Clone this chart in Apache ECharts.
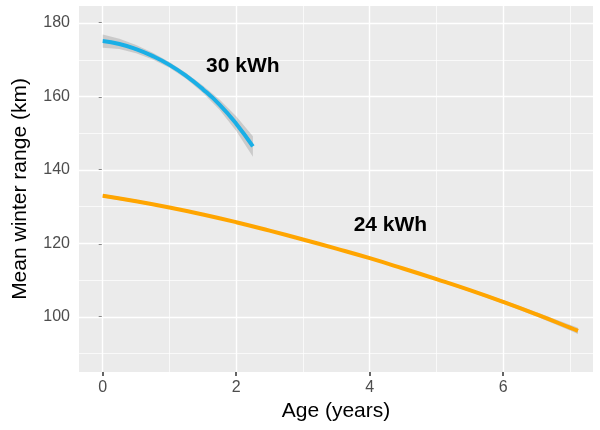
<!DOCTYPE html>
<html>
<head>
<meta charset="utf-8">
<script src="https://cdn.jsdelivr.net/npm/echarts@6/dist/echarts.min.js"></script>
<style>
  html, body { margin: 0; padding: 0; background: #fff; }
  #chart { width: 600px; height: 430px; }
</style>
</head>
<body>
<div id="chart"></div>
<script>
// 30 kWh fit (blue) with its confidence band
const ageBlue = [0, 0.25, 0.5, 0.75, 1, 1.25, 1.5, 1.75, 2, 2.25];
const rangeBlue = [175.1, 174.3, 172.9, 171.0, 168.6, 165.6, 162.0, 157.8, 152.6, 146.4];
const lowBlue = [173.3, 172.9, 171.8, 170.1, 167.8, 164.8, 161.0, 156.4, 150.6, 143.6];
const highBlue = [176.9, 175.7, 174.0, 171.9, 169.4, 166.4, 163.0, 159.2, 154.6, 149.2];

// 24 kWh fit (orange) with its confidence band
const ageOrange = [0, 0.5, 1, 1.5, 2, 2.5, 3, 3.5, 4, 4.5, 5, 5.5, 6, 6.5, 7, 7.12];
const rangeOrange = [133.0, 131.5, 129.8, 127.9, 125.8, 123.5, 121.1, 118.6, 116.0, 113.2, 110.3, 107.3, 104.1, 100.7, 97.1, 96.2];
const lowOrange = [132.5, 131.1, 129.45, 127.6, 125.5, 123.2, 120.8, 118.3, 115.7, 112.9, 109.95, 106.9, 103.6, 100.1, 96.3, 95.35];
const highOrange = [133.5, 131.9, 130.15, 128.2, 126.1, 123.8, 121.4, 118.9, 116.3, 113.5, 110.65, 107.7, 104.6, 101.3, 97.9, 97.05];

// labels placed on the curves
const labelNames = ['30 kWh', '24 kWh'];
const labelAge = [2.1, 4.31];
const labelRange = [168.3, 124.9];

// ticks / grid lines
const xMajor = [0, 2, 4, 6];
const xMinor = [1, 3, 5, 7];
const yMajor = [100, 120, 140, 160, 180];
const yMinor = [90, 110, 130, 150, 170];

const pairs = (xs, ys) => xs.map((x, i) => [x, ys[i]]);

const bands = [
  { x: ageBlue, lo: lowBlue, hi: highBlue },
  { x: ageOrange, lo: lowOrange, hi: highOrange }
];

const chart = echarts.init(document.getElementById('chart'), null, { renderer: 'canvas' });

const fontFamily = 'Liberation Sans, Arial, sans-serif';

const gridLines = (vals, key, width) => ({
  type: 'line',
  data: [],
  silent: true,
  z: 1,
  markLine: {
    silent: true,
    z: 1,
    symbol: 'none',
    animation: false,
    label: { show: false },
    lineStyle: { color: '#ffffff', width: width, type: 'solid' },
    emphasis: { disabled: true },
    data: vals.map(v => ({ [key]: v }))
  }
});

const option = {
  animation: false,
  grid: {
    left: 79, right: 7, top: 6, bottom: 58,
    show: true,
    backgroundColor: '#EBEBEB',
    borderWidth: 0
  },
  xAxis: {
    type: 'value',
    min: -0.355,
    max: 7.345,
    name: 'Age (years)',
    nameLocation: 'middle',
    nameGap: 29,
    nameTextStyle: { color: '#000', fontSize: 21, fontFamily: fontFamily },
    axisLine: { show: false },
    axisTick: { show: true, length: 4, customValues: xMajor, lineStyle: { color: '#333', width: 1.5 } },
    axisLabel: { customValues: xMajor, color: '#4D4D4D', fontSize: 16, margin: 8, fontFamily: fontFamily },
    splitLine: { show: false }
  },
  yAxis: {
    type: 'value',
    min: 85.03,
    max: 184.63,
    name: 'Mean winter range (km)',
    nameLocation: 'middle',
    nameGap: 48,
    nameTextStyle: { color: '#000', fontSize: 21, fontFamily: fontFamily },
    axisLine: { show: false },
    axisTick: { show: true, length: 4, customValues: yMajor, lineStyle: { color: '#333', width: 1.5 } },
    axisLabel: { customValues: yMajor, color: '#4D4D4D', fontSize: 16, margin: 9, fontFamily: fontFamily },
    splitLine: { show: false }
  },
  series: [
    gridLines(xMinor, 'xAxis', 0.7),
    gridLines(yMinor, 'yAxis', 0.7),
    gridLines(xMajor, 'xAxis', 1.4),
    gridLines(yMajor, 'yAxis', 1.4),
    {
      // confidence ribbons
      type: 'custom',
      silent: true,
      z: 2,
      data: bands.map((b, i) => [b.x[0], b.lo[0], i]),
      renderItem: (params, api) => {
        const b = bands[params.dataIndex];
        const upper = b.x.map((x, i) => api.coord([x, b.hi[i]]));
        const lower = b.x.map((x, i) => api.coord([x, b.lo[i]])).reverse();
        return {
          type: 'polygon',
          shape: { points: upper.concat(lower) },
          style: { fill: 'rgba(153,153,153,0.4)' }
        };
      }
    },
    {
      type: 'line',
      name: '30 kWh',
      data: pairs(ageBlue, rangeBlue),
      smooth: true,
      symbol: 'none',
      lineStyle: { color: '#1AAFE6', width: 4 },
      z: 3
    },
    {
      type: 'line',
      name: '24 kWh',
      data: pairs(ageOrange, rangeOrange),
      smooth: true,
      symbol: 'none',
      lineStyle: { color: '#FFA500', width: 4 },
      z: 3
    },
    {
      type: 'scatter',
      symbolSize: 0,
      silent: true,
      z: 4,
      itemStyle: { opacity: 1 },
      data: labelNames.map((n, i) => ({ name: n, value: [labelAge[i], labelRange[i]] })),
      label: {
        show: true,
        position: 'inside',
        formatter: p => p.name,
        color: '#000',
        opacity: 1,
        fontSize: 21,
        fontWeight: 'bold',
        fontFamily: fontFamily
      }
    }
  ]
};

chart.setOption(option);
window.addEventListener('resize', () => chart.resize());
</script>
</body>
</html>
